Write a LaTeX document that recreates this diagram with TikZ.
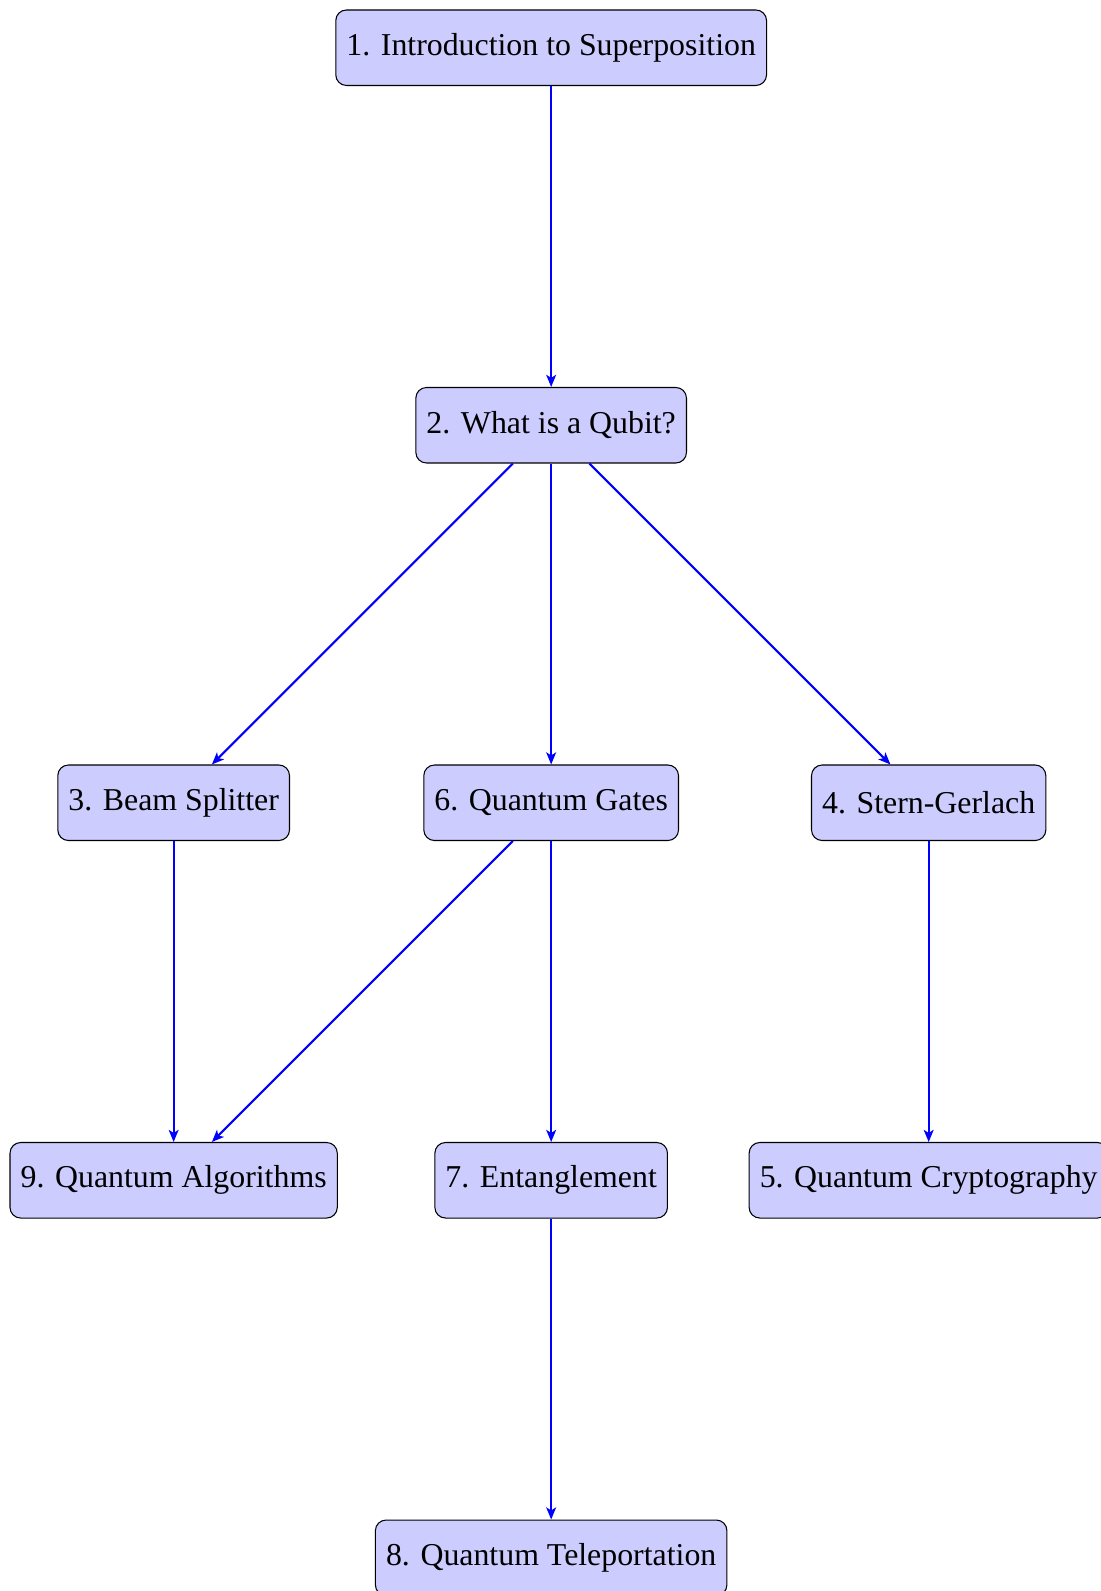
\documentclass[12pt,tikz,border=0pt]{standalone}
\usepackage{fontspec}
\setmainfont{Liberation Serif}
\usetikzlibrary{arrows.meta}
\begin{document}
\begin{tikzpicture}[
  topic/.style={draw, rounded corners, fill=blue!20, minimum height=1cm, font=\fontsize{12}{14}\selectfont},
  link/.style={draw=blue, line width=0.8pt, -{Stealth[length=1.6mm,width=1.3mm,inset=0.4mm]}}
]
\useasboundingbox (-7.30,0.632) rectangle (7.28,-20.44);
\node[topic] (n1) at (0,0) {1. Introduction to Superposition};
\node[topic] (n2) at (0,-5) {2. What is a Qubit?};
\node[topic] (n3) at (-5,-10) {3. Beam Splitter};
\node[topic] (n6) at (0,-10) {6. Quantum Gates};
\node[topic] (n4) at (5,-10) {4. Stern-Gerlach};
\node[topic] (n9) at (-5,-15) {9. Quantum Algorithms};
\node[topic] (n7) at (0,-15) {7. Entanglement};
\node[topic] (n5) at (5,-15) {5. Quantum Cryptography};
\node[topic] (n8) at (0,-20) {8. Quantum Teleportation};
\draw[link] (n1) -- (n2);
\draw[link] (n2) -- (n3);
\draw[link] (n2) -- (n6);
\draw[link] (n2) -- (n4);
\draw[link] (n3) -- (n9);
\draw[link] (n6) -- (n9);
\draw[link] (n6) -- (n7);
\draw[link] (n4) -- (n5);
\draw[link] (n7) -- (n8);
\end{tikzpicture}
\end{document}
